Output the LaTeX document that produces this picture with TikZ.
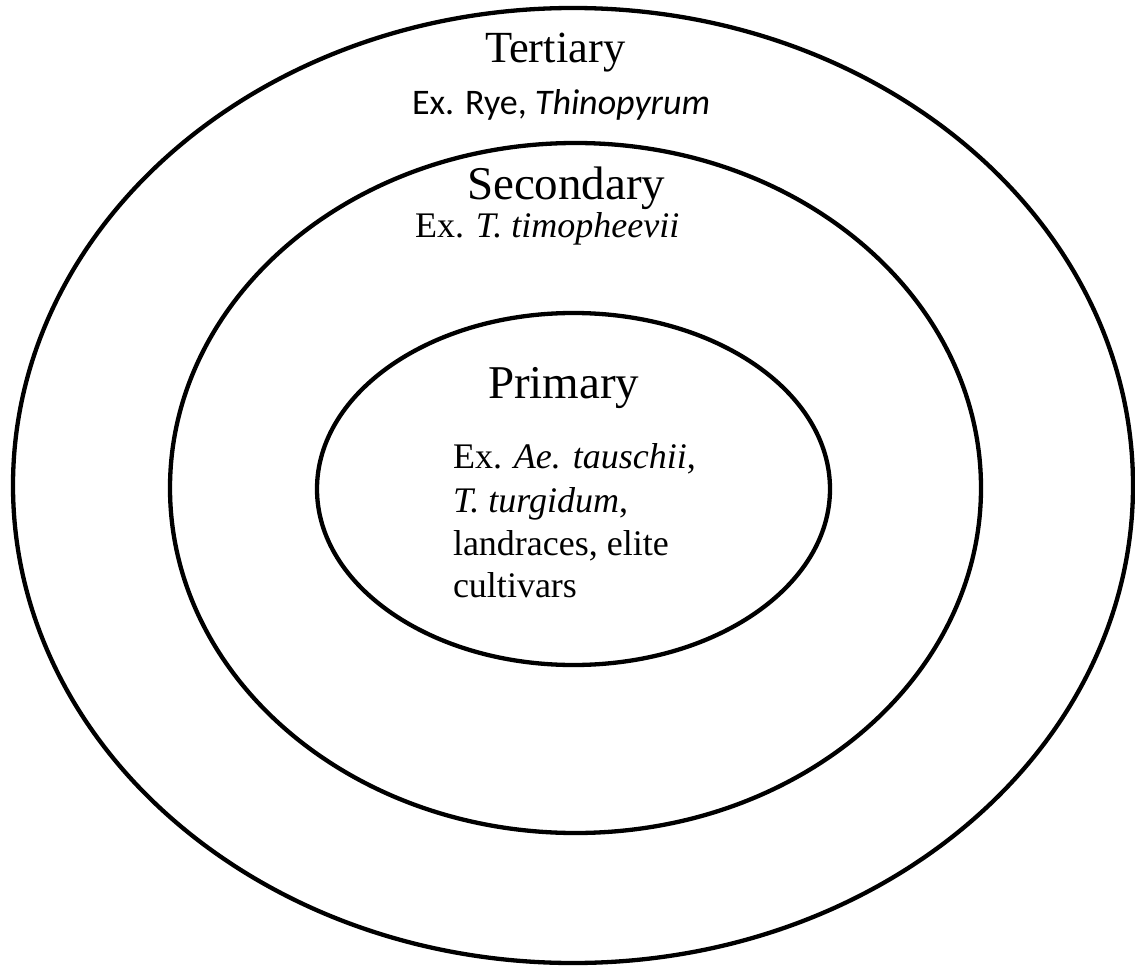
\documentclass[tikz,border=0pt]{standalone}
\usepackage{fontspec}
\setmainfont{Liberation Serif}
\newfontfamily\calib{Carlito}
\begin{document}
\begin{tikzpicture}[x=1pt,y=-1pt,
  ring/.style={line width=4.3pt,black},
  lbl/.style={anchor=base west,inner sep=0pt,outer sep=0pt},
  head/.style={lbl,font=\fontsize{46}{46}\selectfont},
  body/.style={lbl,font=\fontsize{36}{36}\selectfont}]
\useasboundingbox (0,0) rectangle (1135,968);
\draw[ring] (573,485.5) ellipse [x radius=560, y radius=477.5];
\draw[ring] (575.5,488) ellipse [x radius=405.5, y radius=345];
\draw[ring] (573.5,489) ellipse [x radius=256.5, y radius=176];
\node[head,font=\fontsize{44.5}{44.5}\selectfont] (tert) at (485,63) {Tertiary};
\node[lbl,font=\calib\fontsize{36}{36}\selectfont] (tertex) at (412,115) {Ex. Rye, \textit{Thinopyrum}};
\node[head,font=\fontsize{47}{47}\selectfont] (sec) at (467,200) {Secondary};
\node[body] (secex) at (415,238) {Ex. \textit{T. timopheevii}};
\node[head,font=\fontsize{47}{47}\selectfont] (prim) at (488,398) {Primary};
\node[body] (p1) at (453,468) {Ex. \textit{Ae. tauschii},};
\node[body] (p2) at (453,512) {\textit{T. turgidum},};
\node[body] (p3) at (453,555) {landraces, elite};
\node[body] (p4) at (453,597) {cultivars};
\end{tikzpicture}
\end{document}
